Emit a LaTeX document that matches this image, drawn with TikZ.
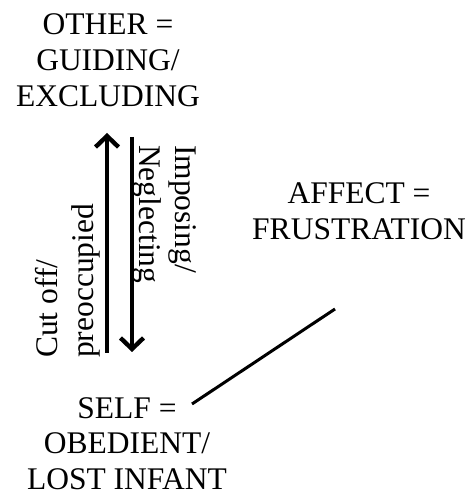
\documentclass[tikz,border=0pt]{standalone}
\usepackage{fontspec}
\setmainfont{Liberation Serif}
\usetikzlibrary{arrows.meta}
\begin{document}
\begin{tikzpicture}[x=1pt,y=1pt,
  label text/.style={inner sep=0pt, font=\fontsize{31.5}{36}\selectfont},
  stack/.style={label text, align=center, anchor=base},
  side/.style={label text, align=left, anchor=base west},
  flow/.style={line width=3.4pt, -{Straight Barb[length=11pt,width=23pt,line width=4.4pt]}},
  link/.style={line width=3pt}]
  \useasboundingbox (0,0) rectangle (468,496);

  % the three positions of the triangle (anchored on the last baseline)
  \node[stack] (other)  at (108,389) {OTHER =\\GUIDING/\\EXCLUDING};
  \node[stack] (affect) at (359,256) {AFFECT =\\FRUSTRATION};
  \node[stack] (self)   at (127,6)   {SELF =\\OBEDIENT/\\LOST INFANT};

  % two-way relation between other and self
  \coordinate (upS) at (107,143);
  \coordinate (upE) at (107,363);
  \coordinate (dnS) at (132,359);
  \coordinate (dnE) at (132,144);
  \draw[flow] (upS) -- (upE);
  \draw[flow] (dnS) -- (dnE);

  \node[side, rotate=90]  (cut) at (93,138)  {Cut off/\\preoccupied};
  \node[side, rotate=-90] (imp) at (139,351) {Imposing/\\Neglecting};

  % link from self to affect
  \coordinate (selfLink)   at (192,92);
  \coordinate (affectLink) at (335,187);
  \draw[link] (selfLink) -- (affectLink);
\end{tikzpicture}
\end{document}
